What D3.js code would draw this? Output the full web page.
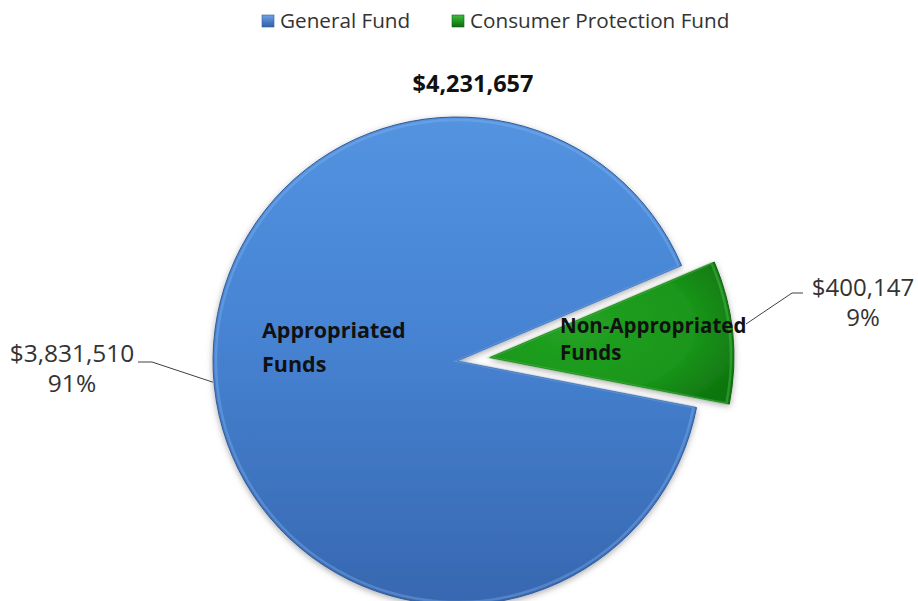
<!DOCTYPE html>
<html><head><meta charset="utf-8">
<script src="https://cdn.jsdelivr.net/npm/d3@7"></script>
<style>body{margin:0;background:#fff}svg{display:block}</style>
</head><body>
<svg id="chart" width="918" height="601"></svg>
<script>
const categories = ["Appropriated Funds", "Non-Appropriated Funds"];
const funds = ["General Fund", "Consumer Protection Fund"];
const values = [3831510, 400147];
const labelLines = [["Appropriated", "Funds"], ["Non-Appropriated", "Funds"]];

const W = 918, H = 601;
const svg = d3.select("#chart");
const cx = 457, cy = 361, R = 244, explode = 33;
const total = d3.sum(values);
const fmt = d3.format("$,");
const pct = v => Math.round(v / total * 100) + "%";

const defs = svg.append("defs");
const bg = defs.append("linearGradient").attr("id", "gBlue").attr("x1", 0).attr("y1", 0).attr("x2", 0).attr("y2", 1);
bg.append("stop").attr("offset", "0%").attr("stop-color", "#5393e0");
bg.append("stop").attr("offset", "45%").attr("stop-color", "#4683d2");
bg.append("stop").attr("offset", "100%").attr("stop-color", "#3767b0");
const gg = defs.append("radialGradient").attr("id", "gGreen").attr("cx", "35%").attr("cy", "45%").attr("r", "75%");
gg.append("stop").attr("offset", "0%").attr("stop-color", "#22a222");
gg.append("stop").attr("offset", "65%").attr("stop-color", "#1a961a");
gg.append("stop").attr("offset", "100%").attr("stop-color", "#0f740f");
const f = defs.append("filter").attr("id", "shadow").attr("x", "-10%").attr("y", "-10%").attr("width", "120%").attr("height", "120%");
f.append("feDropShadow").attr("dx", 0).attr("dy", 2).attr("stdDeviation", 3).attr("flood-color", "#777").attr("flood-opacity", 0.6);
const lb = defs.append("linearGradient").attr("id", "lBlue").attr("x1", 0).attr("y1", 0).attr("x2", 0).attr("y2", 1);
lb.append("stop").attr("offset", "0%").attr("stop-color", "#6fa3e6");
lb.append("stop").attr("offset", "100%").attr("stop-color", "#2f5fa8");
const lgn = defs.append("linearGradient").attr("id", "lGreen").attr("x1", 0).attr("y1", 0).attr("x2", 0).attr("y2", 1);
lgn.append("stop").attr("offset", "0%").attr("stop-color", "#3cbf3c");
lgn.append("stop").attr("offset", "100%").attr("stop-color", "#0c6a0c");

const fills = ["url(#gBlue)", "url(#gGreen)"];
const strokes = ["#2f5c9c", "#0c650c"];
const bevels = ["#8ab8f0", "#5fd05f"];
const legendFills = ["url(#lBlue)", "url(#lGreen)"];

const startDeg = 101;
const pie = d3.pie().sort(null).value(d => d)
  .startAngle(startDeg * Math.PI / 180).endAngle(startDeg * Math.PI / 180 + 2 * Math.PI);
const arcs = pie(values);
const arc = d3.arc().innerRadius(0).outerRadius(R);
const bevelArc = d3.arc().innerRadius(0).outerRadius(R - 3);

const g = svg.append("g").attr("transform", `translate(${cx},${cy})`);
const offs = arcs.map((a, i) => {
  if (i === 0) return [0, 0];
  const m = (a.startAngle + a.endAngle) / 2;
  return [Math.sin(m) * explode, -Math.cos(m) * explode];
});
g.selectAll("path.slice").data(arcs).join("path")
  .attr("class", "slice")
  .attr("transform", (d, i) => `translate(${offs[i][0]},${offs[i][1]})`)
  .attr("d", arc)
  .attr("fill", (d, i) => fills[i])
  .attr("stroke", (d, i) => strokes[i])
  .attr("stroke-width", 1)
  .attr("filter", "url(#shadow)");
g.selectAll("path.bevel").data(arcs).join("path")
  .attr("class", "bevel")
  .attr("transform", (d, i) => `translate(${offs[i][0]},${offs[i][1]})`)
  .attr("d", bevelArc)
  .attr("fill", "none")
  .attr("stroke", (d, i) => bevels[i])
  .attr("stroke-width", 2.5)
  .attr("stroke-opacity", 0.35);

// in-slice labels (positions relative to pie centre)
const inPos = [[-195, -23], [103, -28]];
const inSize = [21.5, 20.5];
const inGap = [34, 27];
arcs.forEach((a, i) => {
  const t = g.append("text")
    .attr("x", inPos[i][0]).attr("y", inPos[i][1])
    .attr("font-family", "Open Sans, sans-serif").attr("font-weight", "bold")
    .attr("font-size", inSize[i]).attr("fill", "#111");
  labelLines[i].forEach((l, k) => t.append("tspan").attr("x", inPos[i][0]).attr("dy", k ? inGap[i] : 0).text(l));
});

// outside labels with leader lines
const lineStyle = s => s.attr("fill", "none").attr("stroke", "#404040").attr("stroke-width", 1);
{
  const px = cx - R * Math.cos(0.087), py = cy + R * Math.sin(0.087);
  svg.append("path").call(lineStyle).attr("d", `M${px - 1},${py}L152,362L138,362`);
  const t = svg.append("text").attr("text-anchor", "middle")
    .attr("font-family", "Open Sans, sans-serif").attr("font-size", 24.5).attr("fill", "#333");
  t.append("tspan").attr("x", 72).attr("y", 362).text(fmt(values[0]));
  t.append("tspan").attr("x", 72).attr("y", 392).text(pct(values[0]));
}
{
  svg.append("path").call(lineStyle).attr("d", `M746,324L792,293L803,293`);
  const t = svg.append("text").attr("text-anchor", "middle")
    .attr("font-family", "Open Sans, sans-serif").attr("font-size", 24).attr("fill", "#333");
  t.append("tspan").attr("x", 863).attr("y", 296).text(fmt(values[1]));
  t.append("tspan").attr("x", 863).attr("y", 326).text(pct(values[1]));
}

// total
svg.append("text").attr("x", 473).attr("y", 92).attr("text-anchor", "middle")
  .attr("font-family", "Open Sans, sans-serif").attr("font-weight", "bold").attr("font-size", 23.5)
  .attr("fill", "#111").text(fmt(total));

// legend
const legendX = [262, 452];
funds.forEach((name, i) => {
  svg.append("rect").attr("x", legendX[i]).attr("y", 15).attr("width", 12).attr("height", 12)
    .attr("fill", legendFills[i]).attr("stroke", strokes[i]).attr("stroke-width", 0.6);
  svg.append("text").attr("x", legendX[i] + 18).attr("y", 28)
    .attr("font-family", "Open Sans, sans-serif").attr("font-size", 20.7).attr("fill", "#333").text(name);
});
</script>
</body></html>
